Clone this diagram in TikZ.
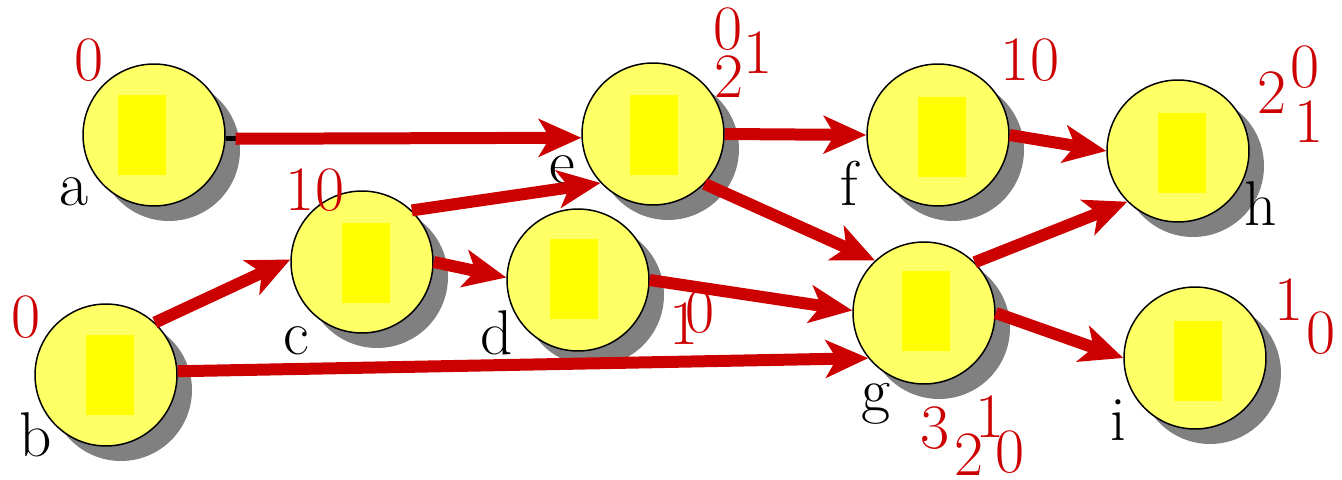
\documentclass[tikz,border=0pt]{standalone}
\usepackage{tikz}
\usetikzlibrary{arrows.meta,shadows}

\definecolor{edgered}{RGB}{204,0,0}
\definecolor{discyellow}{RGB}{255,255,102}
\definecolor{coreyellow}{RGB}{255,255,0}

\begin{document}
\begin{tikzpicture}[x=0.02cm, y=-0.02cm,
	every node/.style={font=\rmfamily\fontsize{36}{36}\selectfont, inner sep=0pt},
	vertex/.style={circle, draw=black, line width=0.85pt, fill=discyellow, minimum size=2.84cm,
		drop shadow={shadow xshift=0.3cm, shadow yshift=-0.3cm, fill=black!50, opacity=1}},
	core/.style={fill=coreyellow, minimum width=0.96cm, minimum height=1.6cm},
	vlabel/.style={anchor=base, text=black},
	numlabel/.style={anchor=base, text=edgered},
	edge/.style={edgered, line width=0.24cm, -{Stealth[length=0.85cm, width=0.75cm, inset=0.22cm]}}]
	\useasboundingbox (0,0) rectangle (1342,480);
	% vertices
	\node[vertex] (a) at (154,135) {};
	\node[vertex] (b) at (106,375) {};
	\node[vertex] (c) at (362,262) {};
	\node[vertex] (d) at (578,280) {};
	\node[vertex] (e) at (653,134) {};
	\node[vertex] (f) at (938,135) {};
	\node[vertex] (g) at (924,313) {};
	\node[vertex] (h) at (1178,151) {};
	\node[vertex] (i) at (1195,358) {};
	\node[core] (ra) at (142,135) {};
	\node[core] (rb) at (110,375) {};
	\node[core] (rc) at (366,263) {};
	\node[core] (rd) at (574,279) {};
	\node[core] (re) at (654,135) {};
	\node[core] (rf) at (942,137) {};
	\node[core] (rg) at (926,311) {};
	\node[core] (rh) at (1182,153) {};
	\node[core] (ri) at (1198,361) {};
	% names
	\node[vlabel] (na) at (74,205) {a};
	\node[vlabel] (nb) at (36,456) {b};
	\node[vlabel] (nc) at (296,354) {c};
	\node[vlabel] (nd) at (497,354) {d};
	\node[vlabel] (ne) at (562,183) {e};
	\node[vlabel] (nf) at (849,205) {f};
	\node[vlabel] (ng) at (876,411) {g};
	\node[vlabel] (nh) at (1261,225) {h};
	\node[vlabel] (ni) at (1118,440) {i};
	% numbers
	\node[numlabel] (ka) at (89,80) {0};
	\node[numlabel] (kb) at (26,337) {0};
	\node[numlabel] (kc) at (315,210) {10};
	\node[numlabel] (kd1) at (684,344) {1};
	\node[numlabel] (kd0) at (700,332) {0};
	\node[numlabel] (ke0) at (728,50) {0};
	\node[numlabel] (ke1) at (758,73) {1};
	\node[numlabel] (ke2) at (729,97) {2};
	\node[numlabel] (kf) at (1030,80) {10};
	\node[numlabel] (kg3) at (935,448) {3};
	\node[numlabel] (kg2) at (969,475) {2};
	\node[numlabel] (kg1) at (990,437) {1};
	\node[numlabel] (kg0) at (1010,472) {0};
	\node[numlabel] (kh2) at (1272,113) {2};
	\node[numlabel] (kh0) at (1305,87) {0};
	\node[numlabel] (kh1) at (1309,142) {1};
	\node[numlabel] (ki1) at (1289,320) {1};
	\node[numlabel] (ki0) at (1321,353) {0};
	% edges
	\draw[line width=0.1cm] (a.-3) -- ++(10,0) coordinate (a1);
	\draw[edge] (a1) -- (e.183);
	\draw[edge] (b.47) -- (c.178);
	\draw[edge] (b.3) -- (g.219);
	\draw[edge] (c.46) -- (e.223);
	\draw[edge] (c.0) -- (d.178);
	\draw[edge] (d.0) -- (g.178);
	\draw[edge] (e.0) -- (f.180);
	\draw[edge] (e.-44) -- (g.133);
	\draw[edge] (f.0) -- (h.180);
	\draw[edge] (g.45) -- (h.225);
	\draw[edge] (g.0) -- (i.180);
\end{tikzpicture}
\end{document}
